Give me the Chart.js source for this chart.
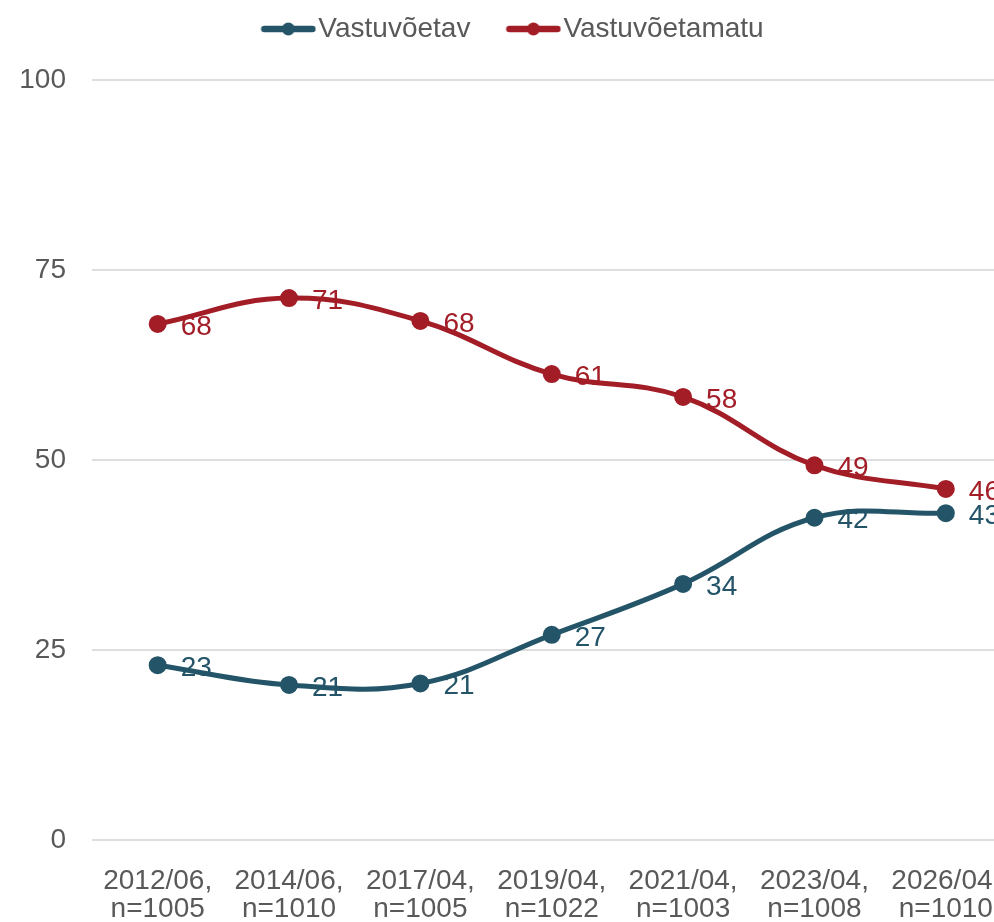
<!DOCTYPE html>
<html>
<head>
<meta charset="utf-8">
<script src="https://cdn.jsdelivr.net/npm/chart.js@4"></script>
<style>
  html, body { margin: 0; padding: 0; background: #fff; overflow: hidden; }
  #wrap { width: 1023px; height: 922px; }
</style>
</head>
<body>
<div id="wrap"><canvas id="lineChart"></canvas></div>
<script>
const labels = [
  ['2012/06,', 'n=1005'],
  ['2014/06,', 'n=1010'],
  ['2017/04,', 'n=1005'],
  ['2019/04,', 'n=1022'],
  ['2021/04,', 'n=1003'],
  ['2023/04,', 'n=1008'],
  ['2026/04,', 'n=1010']
]
const acceptable = [23.0, 20.4, 20.6, 27.0, 33.7, 42.4, 43.0]
const acceptableLabels = [23, 21, 21, 27, 34, 42, 43]
const unacceptable = [67.9, 71.3, 68.3, 61.3, 58.3, 49.3, 46.2]
const unacceptableLabels = [68, 71, 68, 61, 58, 49, 46]
const yTicks = [0, 25, 50, 75, 100]

let colors = {
  BLUE: '#245468',
  RED: '#A31D27',
  TEXT: '#595959',
  GRID: '#dedede'
}
const FONT = "'Liberation Sans', Arial, sans-serif"
const FONT_SIZE = 28

// legend icon: line with a dot in the middle
function legendIcon(color) {
  const c = document.createElement('canvas')
  c.width = 56
  c.height = 16
  const g = c.getContext('2d')
  g.strokeStyle = color
  g.lineWidth = 6.5
  g.lineCap = 'round'
  g.beginPath()
  g.moveTo(4, 8)
  g.lineTo(52, 8)
  g.stroke()
  g.fillStyle = color
  g.beginPath()
  g.arc(28, 8, 6.5, 0, Math.PI * 2)
  g.fill()
  return c
}

const valueLabels = {
  id: 'valueLabels',
  afterDatasetsDraw(chart) {
    const ctx = chart.ctx
    ctx.save()
    ctx.font = FONT_SIZE + 'px ' + FONT
    ctx.textBaseline = 'middle'
    ctx.textAlign = 'left'
    chart.data.datasets.forEach((ds, i) => {
      const meta = chart.getDatasetMeta(i)
      meta.data.forEach((pt, j) => {
        ctx.fillStyle = ds.borderColor
        ctx.fillText(String(ds.valueLabels[j]), pt.x + 23, pt.y + 3)
      })
    })
    ctx.restore()
  }
}

// the legend needs wide item gaps, which also makes it tall; lift it up
const liftLegend = {
  id: 'liftLegend',
  afterLayout(chart) {
    if (chart.legend) {
      chart.legend.top -= 42
      chart.legend.bottom -= 42
    }
  }
}

const ctx = document.getElementById('lineChart')

new Chart(ctx, {
  type: 'line',
  data: {
    labels: labels,
    datasets: [
      {
        label: 'Vastuvõetav',
        data: acceptable,
        valueLabels: acceptableLabels,
        borderColor: colors.BLUE,
        backgroundColor: colors.BLUE,
        borderWidth: 5,
        pointRadius: 6.5,
        tension: 0.4
      },
      {
        label: 'Vastuvõetamatu',
        data: unacceptable,
        valueLabels: unacceptableLabels,
        borderColor: colors.RED,
        backgroundColor: colors.RED,
        borderWidth: 5,
        pointRadius: 6.5,
        tension: 0.4
      }
    ]
  },
  options: {
    responsive: true,
    maintainAspectRatio: false,
    animation: false,
    layout: {
      padding: { top: 0, right: 7, left: 20, bottom: 0 }
    },
    plugins: {
      tooltip: { enabled: false },
      legend: {
        position: 'top',
        maxHeight: 70,
        labels: {
          usePointStyle: true,
          pointStyleWidth: 32,
          boxHeight: 16,
          color: colors.TEXT,
          font: { family: FONT, size: FONT_SIZE, lineHeight: 1.0 },
          padding: 47,
          generateLabels(chart) {
            return chart.data.datasets.map((ds, i) => ({
              text: ds.label,
              pointStyle: legendIcon(ds.borderColor),
              fontColor: colors.TEXT,
              lineWidth: 0,
              strokeStyle: 'transparent',
              fillStyle: 'transparent',
              hidden: false,
              datasetIndex: i
            }))
          }
        }
      }
    },
    scales: {
      x: {
        offset: true,
        grid: { display: false },
        border: { display: false },
        afterFit(scale) {
          scale.height = 82
          scale.paddingLeft = 0
          scale.paddingRight = 0
        },
        ticks: {
          color: colors.TEXT,
          font: { family: FONT, size: FONT_SIZE, lineHeight: 1.0 },
          padding: 19,
          maxRotation: 0,
          autoSkip: false
        }
      },
      y: {
        min: 0,
        max: 100,
        afterBuildTicks(axis) {
          axis.ticks = yTicks.map(v => ({ value: v }))
        },
        afterFit(scale) {
          scale.width = 72
          scale.paddingTop = 80
        },
        grid: { color: colors.GRID, lineWidth: 2, drawTicks: false },
        border: { display: false },
        ticks: {
          color: colors.TEXT,
          font: { family: FONT, size: FONT_SIZE },
          padding: 26
        }
      }
    }
  },
  plugins: [valueLabels, liftLegend]
});
</script>
</body>
</html>
